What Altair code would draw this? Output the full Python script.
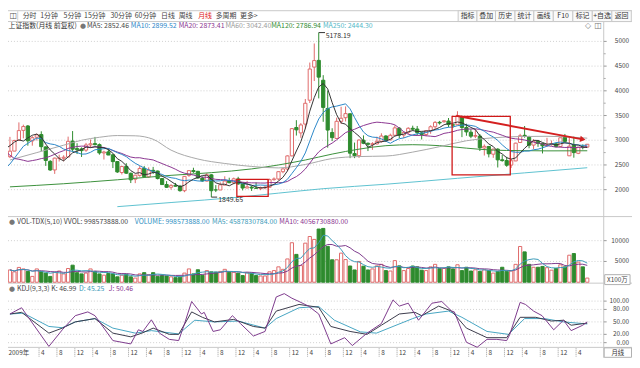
import altair as alt
import pandas as pd

FONT = "Noto Sans CJK SC"
SX = 632 / 640
SY = 352 / 368
PLOT_W = 603

# ---------------- data (monthly, Sep 2009 .. Jun 2020) ----------------
opens = [2667, 2780, 2997, 3200,
         3289, 2987, 3060, 3115, 2865, 2573, 2399, 2637, 2636, 2661, 2983, 2831,
         2825, 2800, 2905, 2932, 2911, 2743, 2765, 2705, 2569, 2347, 2472, 2332,
         2212, 2289, 2433, 2259, 2391, 2377, 2225, 2104, 2049, 2088, 2071, 1979,
         2289, 2386, 2371, 2234, 2174, 2300, 1995, 1993, 2092, 2176, 2140, 2217,
         2113, 2033, 2052, 2031, 2019, 2036, 2049, 2203, 2216, 2364, 2418, 2684,
         3258, 3148, 3327, 3810, 4480, 4616, 4214, 3643, 3157, 3036, 3382, 3456,
         3536, 2730, 2687, 3001, 2939, 2917, 2925, 2979, 3086, 3007, 3101, 3244,
         3105, 3160, 3242, 3227, 3149, 3115, 3193, 3273, 3363, 3375, 3389, 3311,
         3314, 3478, 3258, 3163, 3081, 3084, 2843, 2874, 2718, 2820, 2605, 2589,
         2497, 2581, 2954, 3100, 3062, 2902, 2979, 2934, 2886, 2911, 2928, 2873,
         3067, 2685, 2899, 2735, 2861, 2861]
highs = [3068, 3000, 3361, 3315,
         3306, 3084, 3134, 3181, 2875, 2597, 2648, 2707, 2696, 3073, 3186, 2939,
         2856, 2946, 3016, 3067, 2935, 2788, 2826, 2717, 2574, 2486, 2536, 2345,
         2302, 2478, 2478, 2451, 2461, 2386, 2229, 2173, 2110, 2136, 2096, 2276,
         2394, 2444, 2380, 2268, 2334, 2315, 2092, 2149, 2270, 2242, 2244, 2260,
         2116, 2177, 2075, 2146, 2061, 2077, 2223, 2248, 2368, 2434, 2694, 3239,
         3406, 3347, 3835, 4572, 4958, 5178.19, 4317, 4006, 3243, 3457, 3678, 3684,
         3539, 2953, 3018, 3098, 2955, 2961, 3071, 3141, 3101, 3133, 3301, 3265,
         3174, 3264, 3295, 3289, 3171, 3200, 3301, 3389, 3391, 3405, 3450, 3324,
         3587, 3495, 3334, 3220, 3219, 3124, 2915, 2883, 2827, 2839, 2703, 2666,
         2630, 2950, 3130, 3288, 3090, 3023, 3001, 2945, 3049, 2995, 2946, 3050,
         3127, 3058, 3074, 2860, 2916, 2922]
lows = [2639, 2780, 2997, 3039,
        2890, 2890, 2995, 2781, 2481, 2382, 2319, 2570, 2574, 2661, 2770, 2721,
        2661, 2765, 2855, 2895, 2708, 2610, 2699, 2437, 2338, 2307, 2320, 2134,
        2132, 2263, 2242, 2242, 2318, 2208, 2100, 2035, 2001, 2060, 1959, 1949,
        2259, 2340, 2223, 2162, 2165, 1849.65, 1951, 1993, 2092, 2129, 2108, 2100,
        1985, 2032, 1974, 2014, 1991, 2010, 2045, 2182, 2190, 2332, 2383, 2673,
        3095, 3049, 3227, 3753, 4198, 3847, 3373, 2850, 2983, 3036, 3330, 3380,
        2638, 2638, 2642, 2921, 2781, 2807, 2917, 2951, 2969, 3001, 3081, 3044,
        3044, 3126, 3196, 3095, 3016, 3081, 3132, 3224, 3316, 3356, 3263, 3254,
        3314, 3063, 3091, 3042, 3042, 2782, 2691, 2653, 2644, 2449, 2567, 2463,
        2440, 2578, 2945, 3052, 2838, 2823, 2866, 2733, 2878, 2891, 2857, 2857,
        2967, 2685, 2647, 2719, 2815, 2859]
closes = [2779, 2996, 3195, 3277,
          2989, 3051, 3110, 2870, 2592, 2398, 2638, 2638, 2656, 2978, 2820, 2808,
          2790, 2905, 2928, 2911, 2743, 2762, 2701, 2568, 2359, 2468, 2333, 2199,
          2293, 2429, 2263, 2397, 2373, 2225, 2103, 2048, 2086, 2069, 1980, 2269,
          2385, 2366, 2237, 2178, 2301, 1979, 1994, 2098, 2175, 2141, 2220, 2116,
          2033, 2056, 2033, 2026, 2039, 2048, 2202, 2217, 2364, 2420, 2683, 3235,
          3210, 3310, 3748, 4441, 4612, 4277, 3664, 3206, 3053, 3383, 3445, 3539,
          2738, 2688, 3004, 2938, 2917, 2930, 2979, 3085, 3005, 3100, 3250, 3104,
          3159, 3242, 3223, 3155, 3117, 3192, 3273, 3361, 3349, 3393, 3317, 3307,
          3481, 3259, 3169, 3082, 3095, 2847, 2876, 2725, 2821, 2603, 2588, 2494,
          2585, 2941, 3091, 3078, 2899, 2979, 2933, 2886, 2905, 2929, 2872, 3050,
          2977, 2880, 2750, 2860, 2852, 2919]
volumes = [2950, 2500, 3560, 3200,
           2600, 1400, 3200, 2600, 2200, 1400, 2400, 2700, 2000, 3300, 4100, 2300,
           2000, 2200, 3200, 2600, 2000, 1700, 2100, 2000, 1300, 1700, 1900, 1300,
           1000, 2000, 2300, 1800, 2300, 1400, 1600, 1500, 1300, 1100, 1200, 2200,
           3200, 2000, 3000, 1700, 2800, 2500, 2400, 2600, 3100, 2400, 2400, 2200,
           1600, 2300, 2200, 1600, 1500, 1500, 2500, 2800, 3700, 3100, 5600, 9500,
           6700, 4000, 9400, 11000, 10300, 12800, 12950, 8640, 5400, 5400, 7000, 5450,
           3900, 2950, 5000, 3860, 2950, 3200, 3940, 4300, 2800, 2700, 5200, 3940,
           2800, 3300, 3900, 3700, 2900, 2800, 3700, 4300, 3300, 3300, 3700, 3200,
           4200, 2800, 3600, 2700, 3000, 2600, 3000, 2800, 2200, 2600, 3600, 2600,
           2700, 4300, 8600, 7300, 4300, 3600, 3600, 3800, 3500, 2900, 3300, 4200,
           3700, 6500, 6900, 4850, 3700, 999]
# closes before the first visible month (Jan 2008 .. Aug 2009), for MA5/10/20
prior_close = [4383, 4348, 3473, 3693, 3433, 2736, 2776, 2397, 2293, 1729,
               1871, 1821, 1991, 2082, 2373, 2477, 2633, 2959, 3412, 2667]

# long moving averages
ma60_i = [0, 6, 12, 16, 20, 24, 28, 32, 36, 42, 48, 54, 60, 66, 72, 78, 84, 90, 96, 102, 108, 114, 120, 126, 129]
ma60_v = [2600, 2750, 2900, 3000, 3060, 3095, 3090, 3020, 2800, 2620, 2530, 2470, 2440, 2510, 2630, 2670, 2680,
          2760, 2870, 2990, 3050, 3075, 3080, 3060, 3042]
ma120_i = [0, 12, 24, 36, 45, 54, 60, 66, 72, 78, 84, 90, 96, 102, 108, 114, 120, 129]
ma120_v = [2057, 2120, 2200, 2290, 2344, 2420, 2500, 2600, 2720, 2820, 2890, 2910, 2890, 2840, 2800, 2790, 2785, 2787]
ma250_i = [24, 36, 51, 60, 70, 84, 100, 115, 129]
ma250_v = [1656, 1740, 1847, 1930, 2020, 2110, 2230, 2340, 2444]

# KDJ(9,3,3)
k_i = [0, 2.6, 8.7, 11.7, 14.6, 19, 23, 27, 29.5, 32, 35.6, 37.7, 40.6, 43, 45.7, 50, 54.4, 57, 59.5, 64.6, 69,
       71.7, 76, 79.8, 83, 87, 90.5, 92, 95.8, 98.7, 102, 106.6, 111, 114, 117.5, 121, 123.7, 125.4, 129]
k_v = [69, 73, 23, 35, 50, 58, 23, 14, 23, 35, 20, 20, 74, 61, 50, 56, 39, 35, 76, 92, 85,
       39, 27, 20, 42, 69, 73, 65, 88, 76, 35, 12, 12, 61, 61, 52, 54, 42, 47]
d_i = [0, 3, 8.7, 11.7, 14.6, 19, 23, 28, 31.6, 37.7, 41.3, 45.7, 51, 57, 59.5, 64.6, 69, 72.5, 78.3, 81.9,
       85.6, 90, 93, 98, 101, 106.6, 111.4, 115, 119.4, 123.7, 129]
d_v = [69, 71, 39, 36, 50, 58, 35, 23, 29, 21, 54, 50, 52, 35, 58, 84, 87, 54, 26, 23,
       39, 58, 69, 76, 61, 27, 20, 58, 58, 50, 45]
j_i = [0, 2.6, 8.7, 11.7, 14.6, 17.4, 19, 23, 25, 27, 28.7, 29.7, 31.6, 33.4, 35.6, 37.7, 38.9, 40.6, 42.8, 43.4,
       45.4, 47, 49.7, 51.5, 54.4, 57, 59.5, 61.3, 63, 64.6, 66.7, 69, 71.7, 74.8, 76.5, 79.8, 83, 85.6, 87, 89,
       91.3, 94.3, 96.5, 98.7, 99.3, 102, 104.4, 106.6, 108.8, 111, 111.7, 114, 115.2, 117, 118.9, 121.5, 123.7,
       125.4, 128, 129]
j_v = [69, 84, -9, 31, 65, 74, 65, 5, 1, -3, 31, 27, 55, 23, 8, 5, 42, 99, 69, 73,
       27, 31, 65, 46, 16, 27, 110, 118, 107, 99, 88, 69, -3, 12, -7, 23, 46, 103, 88, 95,
       54, 95, 99, 76, 74, 1, -11, 8, 8, 5, 20, 97, 92, 76, 65, 31, 54,
       29, 42, 50]

# annotations
box_i1 = [50.7, 98.8]
box_i2 = [57.7, 111.8]
box_p1 = [1866, 2300]
box_p2 = [2210, 3485]
arrow_i = [99.7, 128.0]
arrow_p = [3496, 3018]

price_ticks = [2000, 2500, 3000, 3500, 4000, 4500, 5000]
vol_ticks = [5000, 10000]
kdj_ticks = [0, 20, 50, 80, 100]
kdj_labels = ["0.00", "20.00", "50.00", "80.00", "100.00"]

# ---------------- scales ----------------
def sx(v):
    return v * SX

def sy(v):
    return v * SY

xs = alt.Scale(domain=[-0.435, 132.6], range=[0, PLOT_W], nice=False, zero=False)
ps = alt.Scale(domain=[1464, 5212], range=[208.57, 20.96], nice=False, zero=False)
vs = alt.Scale(domain=[0, 13420], range=[275.48, 219.0], nice=False, zero=False)
ks = alt.Scale(domain=[-20, 130], range=[345.12, 281.99], nice=False, zero=False)

UP = "#e06a6a"
DN = "#2e8b2e"

n = len(closes)
df = pd.DataFrame({"i": list(range(n)), "o": opens, "h": highs, "l": lows, "c": closes, "v": volumes})
df["dir"] = ["up" if c >= o else "dn" for o, c in zip(opens, closes)]
df["xl"] = df["i"] - 0.36
df["xr"] = df["i"] + 0.36
df["z"] = 0

base = alt.Chart(df)
X = alt.X("i:Q", scale=xs, axis=None)
layers = []

# ----- chrome helpers -----
def pix_rules(rows, color, width=1, dash=None):
    d = pd.DataFrame(rows, columns=["x1", "y1", "x2", "y2"])
    d[["x1", "x2"]] = d[["x1", "x2"]] * SX
    d[["y1", "y2"]] = d[["y1", "y2"]] * SY
    kw = dict(color=color, strokeWidth=width)
    if dash:
        kw["strokeDash"] = dash
    return alt.Chart(d).mark_rule(**kw).encode(
        x=alt.X("x1:Q", scale=None), y=alt.Y("y1:Q", scale=None),
        x2="x2:Q", y2="y2:Q")

def pix_rects(rows, fill, stroke, width=1):
    d = pd.DataFrame(rows, columns=["x1", "y1", "x2", "y2"])
    d[["x1", "x2"]] = d[["x1", "x2"]] * SX
    d[["y1", "y2"]] = d[["y1", "y2"]] * SY
    return alt.Chart(d).mark_rect(fill=fill, stroke=stroke, strokeWidth=width).encode(
        x=alt.X("x1:Q", scale=None), y=alt.Y("y1:Q", scale=None),
        x2="x2:Q", y2="y2:Q")

def texts(rows, align="left", size=7, font=FONT):
    d = pd.DataFrame(rows, columns=["px", "py", "t", "col"])
    d["px"] = d["px"] * SX
    d["py"] = d["py"] * SY
    return alt.Chart(d).mark_text(align=align, baseline="middle", fontSize=size, font=font).encode(
        x=alt.X("px:Q", scale=None), y=alt.Y("py:Q", scale=None),
        text="t:N", color=alt.Color("col:N", scale=None))

# background panels / separators
layers.append(pix_rules([[0, 0.5, 640, 0.5], [0, 12, 640, 12], [0, 218.5, 640, 218.5],
                         [0, 289, 640, 289], [0, 357, 640, 357]], "#c8c8c8"))
layers.append(pix_rules([[611, 12, 611, 368]], "#c8c8c8"))
layers.append(pix_rules([[10, 1, 10, 11]], "#d0d0d0"))

# toolbar buttons
seps = [461.7, 481, 500, 520, 539.3, 559.3, 579.3, 599.3, 619.3, 639.3]
layers.append(pix_rects([[seps[k], 0.5, seps[k + 1], 12] for k in range(len(seps) - 1)], "#fafafa", "#c8c8c8"))
btn = ["指标", "叠加", "历史", "统计", "画线", "F10", "标记", "+自选", "返回"]
layers.append(texts([[(seps[k] + seps[k + 1]) / 2, 6.3, btn[k], "#333333"] for k in range(len(btn))], align="center"))

tabs = [[15, "分时"], [33, "1分钟"], [57, "5分钟"], [78, "15分钟"], [105, "30分钟"], [130, "60分钟"],
        [157, "日线"], [175, "周线"], [195, "月线"], [213, "多周期"], [238, "更多>"]]
layers.append(texts([[x, 6.3, t, "#e02020" if t == "月线" else "#444444"] for x, t in tabs]))
layers.append(texts([[1.5, 6.3, "◫", "#555555"]], size=8, font="DejaVu Sans"))

# title row
layers.append(texts([
    [0.5, 17, "上证指数(月线 前复权)", "#333333"],
    [81, 17, "MA5: 2852.46", "#444444"],
    [126, 17, "MA10: 2899.52", "#2a86c8"],
    [175, 17, "MA20: 2873.41", "#8a3590"],
    [223, 17, "MA60: 3042.40", "#9a9a9a"],
    [270, 17, "MA120: 2786.94", "#2f8a2f"],
    [323, 17, "MA250: 2444.30", "#4fb7c7"],
]))
layers.append(texts([[77, 17, "●", "#777777"], [4, 224.5, "●", "#777777"], [4, 295, "●", "#777777"]],
                    align="center", size=7, font="DejaVu Sans"))
layers.append(texts([[595, 17, "◇", "#777777"], [605, 17, "◫", "#777777"]], align="center", size=8,
                    font="DejaVu Sans"))

# volume / kdj headers
layers.append(texts([
    [9.3, 224.5, "VOL-TDX(5,10) VVOL: 998573888.00", "#444444"],
    [130, 224.5, "VOLUME: 998573888.00", "#2f8fbf"],
    [209.3, 224.5, "MA5: 4587830784.00", "#3b9ab8"],
    [278.3, 224.5, "MA10: 4056730880.00", "#8a3590"],
    [9.3, 295, "KDJ(9,3,3) K: 46.99", "#444444"],
    [72.7, 295, "D: 45.25", "#3b9ab8"],
    [103.3, 295, "J: 50.46", "#8a3590"],
]))

# gridlines
grid = dict(color="#cfcfcf", strokeWidth=1, strokeDash=[1, 2])
pg = pd.DataFrame({"p": price_ticks, "t": [str(p) for p in price_ticks]})
vg = pd.DataFrame({"p": vol_ticks, "t": [str(p) for p in vol_ticks]})
kg = pd.DataFrame({"p": kdj_ticks, "t": kdj_labels})
for g, sc in [(pg, ps), (vg, vs), (kg, ks)]:
    layers.append(alt.Chart(g).mark_rule(**grid).encode(
        y=alt.Y("p:Q", scale=sc, axis=None), x=alt.value(0), x2=alt.value(PLOT_W)))
    layers.append(alt.Chart(g).mark_rule(color="#999999").encode(
        y=alt.Y("p:Q", scale=sc, axis=None), x=alt.value(sx(611)), x2=alt.value(sx(614))))
    layers.append(alt.Chart(g).mark_text(align="right", baseline="middle", fontSize=6.5, font=FONT,
                                         color="#444444").encode(
        y=alt.Y("p:Q", scale=sc, axis=None), x=alt.value(sx(637)), text="t:N"))
minor = pd.DataFrame({"p": [2250, 2750, 3250, 3750, 4250, 4750]})
layers.append(alt.Chart(minor).mark_rule(color="#aaaaaa").encode(
    y=alt.Y("p:Q", scale=ps, axis=None), x=alt.value(sx(611)), x2=alt.value(sx(613))))

# X100万 and 月线 boxes
layers.append(pix_rects([[612, 280, 638, 290.5], [611.5, 357.5, 639.5, 367.5]], "#ffffff", "#b0b0b0"))
layers.append(texts([[625, 285.3, "X100万", "#444444"], [625.5, 362.5, "月线", "#333333"]], align="center",
                    size=6.5))

# ----- candles -----
for d, col in [("up", UP), ("dn", DN)]:
    sub = base.transform_filter(alt.datum.dir == d)
    layers.append(sub.mark_rule(color=col, strokeWidth=1).encode(
        x=X, y=alt.Y("l:Q", scale=ps, axis=None), y2="h:Q"))
for d, fill, col in [("up", "#ffffff", UP), ("dn", DN, DN)]:
    sub = base.transform_filter(alt.datum.dir == d)
    layers.append(sub.mark_rect(fill=fill, stroke=col, strokeWidth=1).encode(
        x=alt.X("xl:Q", scale=xs, axis=None), x2="xr:Q",
        y=alt.Y("o:Q", scale=ps, axis=None), y2="c:Q"))
    layers.append(sub.mark_rect(fill=fill, stroke=col, strokeWidth=1).encode(
        x=alt.X("xl:Q", scale=xs, axis=None), x2="xr:Q",
        y=alt.Y("v:Q", scale=vs, axis=None), y2="z:Q"))

# ----- price moving averages -----
ma_src = pd.DataFrame({"i": list(range(-len(prior_close), 0)) + list(range(n)),
                       "c": prior_close + closes})
ma_chart = (alt.Chart(ma_src)
            .transform_window(ma5="mean(c)", frame=[-4, 0], sort=[alt.SortField("i")])
            .transform_window(ma10="mean(c)", frame=[-9, 0], sort=[alt.SortField("i")])
            .transform_window(ma20="mean(c)", frame=[-19, 0], sort=[alt.SortField("i")])
            .transform_filter("datum.i >= -1"))
long_ma = pd.concat([
    pd.DataFrame({"i": ma250_i, "val": ma250_v, "ser": "ma250"}),
    pd.DataFrame({"i": ma120_i, "val": ma120_v, "ser": "ma120"}),
    pd.DataFrame({"i": ma60_i, "val": ma60_v, "ser": "ma60"}),
])
for ser, col in [("ma250", "#5cc1cf"), ("ma120", "#3a8f3a"), ("ma60", "#a8a8a8")]:
    layers.append(alt.Chart(long_ma).transform_filter(alt.datum.ser == ser)
                  .mark_line(color=col, strokeWidth=1, interpolate="monotone", clip=True)
                  .encode(x=X, y=alt.Y("val:Q", scale=ps, axis=None)))
for ser, col in [("ma20", "#8a3590"), ("ma10", "#2a86c8"), ("ma5", "#333333")]:
    layers.append(ma_chart.mark_line(color=col, strokeWidth=1, clip=True)
                  .encode(x=X, y=alt.Y(f"{ser}:Q", scale=ps, axis=None)))

# ----- volume moving averages -----
vol_ma = (base.transform_window(vma5="mean(v)", frame=[-4, 0], sort=[alt.SortField("i")])
          .transform_window(vma10="mean(v)", frame=[-9, 0], sort=[alt.SortField("i")]))
for ser, col in [("vma10", "#7d3a8c"), ("vma5", "#3b9ab8")]:
    layers.append(vol_ma.mark_line(color=col, strokeWidth=1)
                  .encode(x=X, y=alt.Y(f"{ser}:Q", scale=vs, axis=None)))

# ----- KDJ -----
kdj = pd.concat([
    pd.DataFrame({"i": d_i, "val": d_v, "ser": "D"}),
    pd.DataFrame({"i": k_i, "val": k_v, "ser": "K"}),
    pd.DataFrame({"i": j_i, "val": j_v, "ser": "J"}),
])
for ser, col in [("D", "#45a5c2"), ("K", "#3a3a4a"), ("J", "#7d3a8c")]:
    layers.append(alt.Chart(kdj).transform_filter(alt.datum.ser == ser)
                  .mark_line(color=col, strokeWidth=1)
                  .encode(x=X, y=alt.Y("val:Q", scale=ks, axis=None)))

# ----- annotations -----
hi_i = max(range(n), key=lambda k: highs[k])
lo_i = min(range(n), key=lambda k: lows[k])
ann = pd.DataFrame({"i": [hi_i, lo_i], "i2": [hi_i + 1.4, lo_i + 1.3], "p": [highs[hi_i], lows[lo_i]],
                    "t": [f"{highs[hi_i]:.2f}", f"{lows[lo_i]:.2f}"]})
layers.append(alt.Chart(ann).mark_rule(color="#333333", strokeWidth=1).encode(
    x=X, x2="i2:Q", y=alt.Y("p:Q", scale=ps, axis=None)))
layers.append(alt.Chart(ann).mark_text(align="left", baseline="middle", dx=7, dy=3, fontSize=7,
                                       font=FONT, color="#333333").encode(
    x=X, y=alt.Y("p:Q", scale=ps, axis=None), text="t:N"))

boxes = pd.DataFrame({"a": box_i1, "b": box_i2, "p1": box_p1, "p2": box_p2})
layers.append(alt.Chart(boxes).mark_rect(fill=None, fillOpacity=0, stroke="#d01818", strokeWidth=1.3).encode(
    x=alt.X("a:Q", scale=xs, axis=None), x2="b:Q",
    y=alt.Y("p1:Q", scale=ps, axis=None), y2="p2:Q"))
arr = pd.DataFrame({"i": arrow_i, "p": arrow_p})
layers.append(alt.Chart(arr).mark_line(color="#d42020", strokeWidth=2).encode(
    x=X, y=alt.Y("p:Q", scale=ps, axis=None)))
layers.append(alt.Chart(arr.tail(1)).mark_point(shape="triangle-right", filled=True, size=40, angle=10.5,
                                                color="#d42020", opacity=1).encode(
    x=X, y=alt.Y("p:Q", scale=ps, axis=None)))

# ----- time axis -----
tick_i = [k for k in range(7, n) if k % 4 == 3]
tick_t = ["12" if k % 12 == 3 else ("4" if k % 12 == 7 else "8") for k in tick_i]
ticks = pd.DataFrame({"b": [k - 0.5 for k in tick_i], "t": tick_t})
first = pd.DataFrame({"b": [-0.435], "t": ["2009年"]})
layers.append(alt.Chart(ticks).mark_rule(color="#9a9a9a", strokeDash=[1, 1]).encode(
    x=alt.X("b:Q", scale=xs, axis=None), y=alt.value(sy(358)), y2=alt.value(sy(367))))
layers.append(alt.Chart(ticks).mark_text(align="left", baseline="middle", dx=2, fontSize=6.5, font=FONT,
                                         color="#444444").encode(
    x=alt.X("b:Q", scale=xs, axis=None), y=alt.value(sy(362.5)), text="t:N"))
layers.append(alt.Chart(first).mark_text(align="left", baseline="middle", dx=0.5, fontSize=6.5, font=FONT,
                                         color="#444444").encode(
    x=alt.X("b:Q", scale=xs, axis=None), y=alt.value(sy(362.5)), text="t:N"))

chart = (alt.layer(*layers)
         .resolve_scale(x="independent", y="independent", color="independent")
         .properties(width=632, height=352, padding=0, background="#ffffff",
                     autosize=alt.AutoSizeParams(type="none"))
         .configure_view(stroke=None))

chart.save("out.html", embed_options={"renderer": "svg", "actions": False})
